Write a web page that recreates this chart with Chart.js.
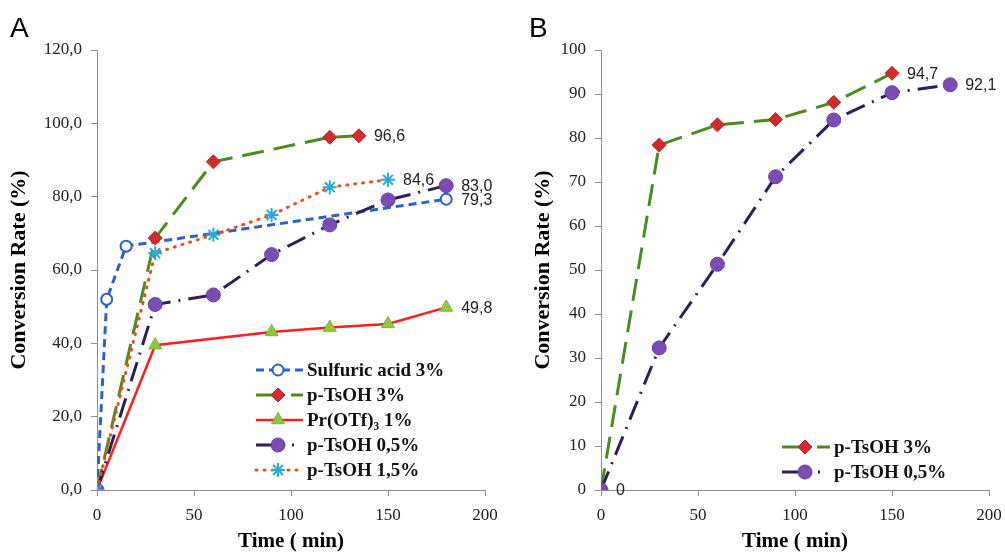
<!DOCTYPE html>
<html>
<head>
<meta charset="utf-8">
<script src="https://cdn.jsdelivr.net/npm/chart.js@4.4.1/dist/chart.umd.min.js"></script>
<style>
  html, body { margin: 0; padding: 0; background: #fff; }
  #wrap { position: relative; width: 1005px; height: 556px; overflow: hidden; }
  canvas { position: absolute; top: 0; }
  .panel { position: absolute; font-family: 'Liberation Sans', Arial, sans-serif; font-size: 28px; line-height: 28px; color: #000; }
</style>
</head>
<body>
<div id="wrap">
  <canvas id="chartA" width="500" height="556" style="left:0"></canvas>
  <canvas id="chartB" width="505" height="556" style="left:500px"></canvas>
  <div class="panel" style="left:10px; top:14px">A</div>
  <div class="panel" style="left:529px; top:14px">B</div>
</div>
<script>
'use strict';

// Panel A data
var sulfuricTime = [0, 5, 15, 180];
var sulfuricRate = [0, 52.0, 66.5, 79.3];
var tsoh3Time = [0, 30, 60, 120, 135];
var tsoh3Rate = [0, 68.7, 89.5, 96.2, 96.6];
var prTime = [0, 30, 90, 120, 150, 180];
var prRate = [0, 39.5, 43.1, 44.3, 45.3, 49.8];
var tsoh05Time = [0, 30, 60, 90, 120, 150, 180];
var tsoh05Rate = [0, 50.6, 53.2, 64.2, 72.3, 79.1, 83.0];
var tsoh15Time = [0, 30, 60, 90, 120, 150];
var tsoh15Rate = [0, 64.6, 69.6, 75.0, 82.6, 84.6];

// Panel B data
var bTsoh3Time = [0, 30, 60, 90, 120, 150];
var bTsoh3Rate = [0, 78.4, 83.0, 84.2, 88.1, 94.7];
var bTsoh05Time = [0, 30, 60, 90, 120, 150, 180];
var bTsoh05Rate = [0, 32.3, 51.3, 71.2, 84.1, 90.3, 92.1];

var timeTicks = [0, 50, 100, 150, 200];

function pts(xs, ys) {
    return xs.map(function (x, i) { return { x: x, y: ys[i] }; });
}

function fmt(v) {
    return v === 0 ? '0' : v.toFixed(1).replace('.', ',');
}

// simple marker painter, used for the legend symbols
function marker(ctx, style, r, x, y) {
    ctx.beginPath();
    if (style === 'circle') {
        ctx.arc(x, y, r, 0, Math.PI * 2);
    } else if (style === 'rectRot') {
        ctx.moveTo(x - r, y); ctx.lineTo(x, y - r); ctx.lineTo(x + r, y); ctx.lineTo(x, y + r);
    } else if (style === 'triangle') {
        var w = r * Math.sqrt(3) / 2;
        ctx.moveTo(x, y - r); ctx.lineTo(x + w, y + r / 2); ctx.lineTo(x - w, y + r / 2);
    } else if (style === 'star') {
        for (var k = 0; k < 4; k++) {
            var a = k * Math.PI / 4;
            ctx.moveTo(x - Math.cos(a) * r, y - Math.sin(a) * r);
            ctx.lineTo(x + Math.cos(a) * r, y + Math.sin(a) * r);
        }
        ctx.stroke();
        return;
    }
    ctx.closePath();
    ctx.fill();
    ctx.stroke();
}

var legendPlugin = {
    id: 'sideLegend',
    afterDraw: function (chart, args, opts) {
        var ctx = chart.ctx;
        ctx.save();
        chart.data.datasets.forEach(function (ds, i) {
            var y = opts.y + i * opts.step;
            ctx.strokeStyle = ds.borderColor;
            ctx.lineWidth = ds.borderWidth;
            ctx.lineCap = ds.borderCapStyle || 'butt';
            ctx.setLineDash(ds.legendDash || ds.borderDash || []);
            ctx.beginPath();
            ctx.moveTo(opts.x, y);
            ctx.lineTo(opts.x + opts.len, y);
            ctx.stroke();
            ctx.setLineDash([]);
            ctx.lineCap = 'butt';
            ctx.fillStyle = ds.pointBackgroundColor;
            ctx.strokeStyle = ds.pointBorderColor;
            ctx.lineWidth = ds.pointBorderWidth;
            marker(ctx, ds.pointStyle, ds.pointRadius, opts.x + opts.mark, y);
            ctx.fillStyle = '#111';
            ctx.font = 'bold 19px "Liberation Serif", "Times New Roman", serif';
            ctx.textBaseline = 'middle';
            ctx.textAlign = 'left';
            ctx.fillText(ds.label, opts.x + opts.len + 4, y + 1);
        });
        ctx.restore();
    }
};

var valueLabels = {
    id: 'valueLabels',
    afterDatasetsDraw: function (chart, args, opts) {
        var ctx = chart.ctx;
        ctx.save();
        ctx.font = '16px "Liberation Sans", Arial, sans-serif';
        ctx.fillStyle = '#222';
        ctx.textBaseline = 'middle';
        ctx.textAlign = 'left';
        opts.items.forEach(function (it) {
            var meta = chart.getDatasetMeta(it[0]);
            var idx = it[1] < 0 ? meta.data.length - 1 : it[1];
            var el = meta.data[idx];
            var v = chart.data.datasets[it[0]].data[idx].y;
            ctx.fillText(fmt(v), el.x + 15, el.y + 1);
        });
        ctx.restore();
    }
};

function axes(yMax, yStep, yWidth, titlePad, yFormat) {
    var tickFont = { family: '"Liberation Serif", "Times New Roman", serif', size: 17 };
    var serif = '"Liberation Serif", "Times New Roman", serif';
    return {
        x: {
            type: 'linear', min: 0, max: 200,
            afterBuildTicks: function (s) { s.ticks = timeTicks.map(function (v) { return { value: v }; }); },
            grid: { drawOnChartArea: false, drawTicks: true, tickLength: 6, color: '#8c8c8c' },
            border: { color: '#8c8c8c', width: 1 },
            ticks: { font: tickFont, color: '#222', padding: 9, maxRotation: 0 },
            title: { display: true, text: 'Time ( min)', font: { family: serif, size: 21, weight: 'bold' }, color: '#000', padding: { top: 0, bottom: 2 } },
            afterFit: function (s) { s.height = 66; s.paddingLeft = 0; s.paddingRight = 0; }
        },
        y: {
            type: 'linear', min: 0, max: yMax,
            ticks: { stepSize: yStep, font: tickFont, color: '#222', padding: 9, callback: yFormat },
            grid: { drawOnChartArea: false, drawTicks: true, tickLength: 6, color: '#8c8c8c' },
            border: { color: '#8c8c8c', width: 1 },
            title: { display: true, text: 'Conversion Rate (%)', font: { family: serif, size: 22, weight: 'bold' }, color: '#000', padding: { top: titlePad, bottom: 0 } },
            afterFit: function (s) { s.width = yWidth; s.paddingTop = 0; s.paddingBottom = 0; }
        }
    };
}

var sulfuric = {
    label: 'Sulfuric acid 3%', data: pts(sulfuricTime, sulfuricRate),
    borderColor: '#2b62c4', borderWidth: 3, borderDash: [8, 5], legendDash: [8, 5],
    pointStyle: 'circle', pointRadius: 5.5, pointBackgroundColor: '#fff', pointBorderColor: '#2b62c4', pointBorderWidth: 2,
    order: 4
};
var tsoh3 = {
    label: 'p-TsOH 3%', data: pts(tsoh3Time, tsoh3Rate),
    borderColor: '#4f8a1f', borderWidth: 3, borderDash: [22, 10], legendDash: [27, 8],
    pointStyle: 'rectRot', pointRadius: 7, pointBackgroundColor: '#d22b2b', pointBorderColor: '#b52222', pointBorderWidth: 1,
    order: 3
};
var pr = {
    label: 'Pr(OTf)\u2083 1%', data: pts(prTime, prRate),
    borderColor: '#ff1e1e', borderWidth: 2.5,
    pointStyle: 'triangle', pointRadius: 7.5, pointBackgroundColor: '#92c73e', pointBorderColor: '#7fb032', pointBorderWidth: 1,
    order: 2
};
var tsoh05 = {
    label: 'p-TsOH 0,5%', data: pts(tsoh05Time, tsoh05Rate),
    borderColor: '#2d1f55', borderWidth: 3, borderDash: [20, 8, 2, 8], legendDash: [24, 12, 2, 20],
    pointStyle: 'circle', pointRadius: 7, pointBackgroundColor: '#7a4db5', pointBorderColor: '#6a3fa5', pointBorderWidth: 1,
    order: 1
};
var tsoh15 = {
    label: 'p-TsOH 1,5%', data: pts(tsoh15Time, tsoh15Rate),
    borderColor: '#e8501a', borderWidth: 3, borderDash: [1, 7], borderCapStyle: 'round',
    pointStyle: 'star', pointRadius: 7, pointBackgroundColor: '#2aaad8', pointBorderColor: '#2aaad8', pointBorderWidth: 2,
    order: 0
};

var common = {
    responsive: false, animation: false, devicePixelRatio: 1,
    elements: { line: { tension: 0, fill: false } },
    plugins: { legend: { display: false }, tooltip: { enabled: false } }
};

new Chart(document.getElementById('chartA').getContext('2d'), {
    type: 'line',
    data: { datasets: [sulfuric, tsoh3, pr, tsoh05, tsoh15] },
    options: Object.assign({}, common, {
        layout: { padding: { top: 50, right: 15, bottom: 0, left: 0 } },
        scales: axes(120, 20, 97, 6, function (v) { return v.toFixed(1).replace('.', ','); }),
        plugins: Object.assign({}, common.plugins, {
            sideLegend: { x: 256, y: 370, step: 25, len: 47, mark: 22 },
            valueLabels: { items: [[0, -1], [1, -1], [2, -1], [3, -1], [4, -1]] }
        })
    }),
    plugins: [legendPlugin, valueLabels]
});

var bTsoh3 = Object.assign({}, tsoh3, { data: pts(bTsoh3Time, bTsoh3Rate), order: 1 });
var bTsoh05 = Object.assign({}, tsoh05, { data: pts(bTsoh05Time, bTsoh05Rate), order: 0 });

new Chart(document.getElementById('chartB').getContext('2d'), {
    type: 'line',
    data: { datasets: [bTsoh3, bTsoh05] },
    options: Object.assign({}, common, {
        layout: { padding: { top: 50, right: 16, bottom: 0, left: 0 } },
        scales: axes(100, 10, 101, 30, function (v) { return String(v); }),
        plugins: Object.assign({}, common.plugins, {
            sideLegend: { x: 282, y: 447, step: 25, len: 48, mark: 23 },
            valueLabels: { items: [[0, -1], [1, -1], [1, 0]] }
        })
    }),
    plugins: [legendPlugin, valueLabels]
});
</script>
</body>
</html>
